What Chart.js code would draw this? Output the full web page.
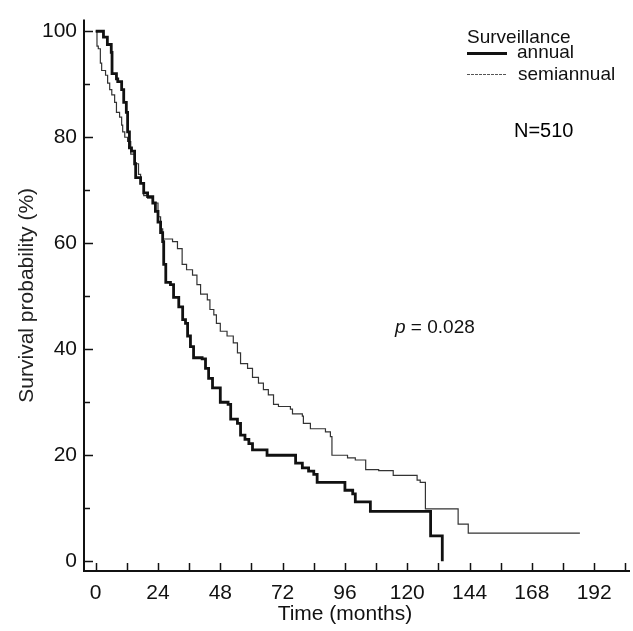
<!DOCTYPE html>
<html>
<head>
<meta charset="utf-8">
<script src="https://cdn.jsdelivr.net/npm/chart.js@4.4.0/dist/chart.umd.min.js"></script>
<style>
  html, body { margin: 0; padding: 0; background: #fff; }
  #wrap { width: 633px; height: 631px; position: relative; }
</style>
</head>
<body>
<div id="wrap"><canvas id="kmChart"></canvas></div>
<script>
// Kaplan-Meier curves: time in months, survival in %
const annualTime = [0, 3, 4.5, 6, 6.3, 8, 8.5, 10, 10.8, 11.8, 12.3, 13, 13.8, 15, 15.4, 17.3, 18.5, 20, 22, 23,
    24, 25, 25.8, 26.2, 27, 28.8, 30, 32, 33.5, 34.6, 35.4, 36.5, 37.7, 41, 42.3, 43.5, 45, 48, 51, 52,
    54.6, 55.8, 57.5, 59, 60.4, 66, 77, 79.6, 82, 84, 85.3, 96, 99, 100, 105.8, 129, 133.5];
const annualSurv = [100, 98.9, 97.5, 96, 92, 91, 90.5, 89, 86.6, 84.7, 81, 78, 77.4, 75, 72.4, 71.3, 69.5, 68.8, 67.6, 66,
    64, 62, 60.3, 56, 52.6, 52.2, 49.8, 48, 45.6, 44.9, 42.5, 40.5, 38.4, 38.2, 36.4, 34.5, 32.7, 30, 29.6, 26.8,
    26, 23.8, 23, 22.2, 21, 20, 18.5, 17.6, 17, 16.4, 14.9, 13.4, 12.7, 11.2, 9.4, 4.8, 0];

const semiTime = [0, 0.5, 1, 1.8, 2.3, 3.8, 4.6, 5.4, 6.2, 7.3, 8, 9.2, 10, 10.4, 11.2, 12.3, 13.5, 15, 16.5, 17.3,
    18.5, 20, 22, 24, 25, 25.8, 29.6, 31.5, 33.3, 35, 37.3, 39, 40.4, 43, 44, 45.5, 46.5, 48, 50.6, 53,
    54.6, 55.8, 58.5, 60.4, 62.7, 64.6, 66.5, 68.5, 70.4, 75, 75.8, 79.6, 80, 82.7, 88.5, 90.4, 91, 97, 100, 104,
    109, 114.6, 123.8, 125, 127, 139.6, 143.5, 186.5];
const semiSurv = [100, 97.2, 96.7, 94, 92.6, 91.7, 90.2, 89, 88, 86.6, 84.7, 83.8, 82.3, 81, 80, 79.2, 76.8, 75, 73, 71.3,
    69, 68.5, 67.6, 65, 62.7, 60.8, 60.3, 59, 56, 55, 54, 52.2, 50.4, 49.3, 47.5, 46.5, 44.9, 43.4, 42.5, 41.2,
    39.3, 37.3, 36.4, 34.7, 33.6, 32.4, 31.4, 29.6, 29.2, 28.7, 27.8, 27.4, 26, 25, 24.4, 23.5, 20, 19.5, 19.1, 17.3,
    17.1, 16.2, 15.3, 14.9, 9.9, 7, 5.3, 5.3];

// Tick positions
const xLabelTicks = [0, 24, 48, 72, 96, 120, 144, 168, 192];
const xMinorTicks = [0, 12, 24, 36, 48, 60, 72, 84, 96, 108, 120, 132, 144, 156, 168, 180, 192, 204];
const yLabelTicks = [0, 20, 40, 60, 80, 100];
const yMinorTicks = [10, 30, 50, 70, 90];

const toPoints = (ts, ss) => ts.map((t, i) => ({ x: t, y: ss[i] }));

const FONT = '"Liberation Sans", Arial, sans-serif';
const INK = '#111111';

// Axis lines, inward ticks, x title, legend and notes
const decorations = {
    id: 'decorations',
    afterDraw(chart) {
        const { ctx, chartArea: a, scales: { x, y } } = chart;
        ctx.save();
        ctx.strokeStyle = INK;
        ctx.lineWidth = 2;
        ctx.beginPath();
        ctx.moveTo(a.left, a.top);
        ctx.lineTo(a.left, a.bottom);
        ctx.lineTo(a.right, a.bottom);
        ctx.stroke();

        ctx.lineWidth = 1.5;
        ctx.beginPath();
        xMinorTicks.forEach(v => {
            const px = Math.round(x.getPixelForValue(v)) + 0.5;
            ctx.moveTo(px, a.bottom);
            ctx.lineTo(px, a.bottom - 8);
        });
        yLabelTicks.forEach(v => {
            const py = Math.round(y.getPixelForValue(v)) + 0.5;
            ctx.moveTo(a.left, py);
            ctx.lineTo(a.left + 9, py);
        });
        yMinorTicks.forEach(v => {
            const py = Math.round(y.getPixelForValue(v)) + 0.5;
            ctx.moveTo(a.left, py);
            ctx.lineTo(a.left + 6, py);
        });
        ctx.stroke();

        // x axis title
        ctx.fillStyle = INK;
        ctx.textAlign = 'center';
        ctx.textBaseline = 'alphabetic';
        ctx.font = '21px ' + FONT;
        ctx.fillText('Time (months)', x.getPixelForValue(96), 620);

        // legend
        ctx.textAlign = 'left';
        ctx.font = '19px ' + FONT;
        ctx.fillText('Surveillance', 467, 43);
        ctx.fillText('annual', 517, 58);
        ctx.fillText('semiannual', 518, 80);
        ctx.strokeStyle = '#111';
        ctx.lineWidth = 3;
        ctx.beginPath();
        ctx.moveTo(467, 53.5);
        ctx.lineTo(507, 53.5);
        ctx.stroke();
        ctx.strokeStyle = '#555';
        ctx.lineWidth = 1;
        ctx.setLineDash([3, 1]);
        ctx.beginPath();
        ctx.moveTo(467, 74.5);
        ctx.lineTo(507, 74.5);
        ctx.stroke();
        ctx.setLineDash([]);

        // N and p value
        ctx.fillStyle = '#000';
        ctx.font = '20px ' + FONT;
        ctx.fillText('N=510', 514, 137);
        ctx.fillStyle = INK;
        ctx.font = 'italic 19px ' + FONT;
        ctx.fillText('p', 395, 333);
        const pw = ctx.measureText('p').width;
        ctx.font = '19px ' + FONT;
        ctx.fillText(' = 0.028', 395 + pw, 333);
        ctx.restore();
    }
};

new Chart(document.getElementById('kmChart'), {
    type: 'line',
    data: {
        datasets: [
            {
                label: 'annual',
                data: toPoints(annualTime, annualSurv),
                borderColor: '#111111',
                borderWidth: 2.8,
                stepped: 'before',
                pointRadius: 0,
                fill: false
            },
            {
                label: 'semiannual',
                data: toPoints(semiTime, semiSurv),
                borderColor: '#333333',
                borderWidth: 1.2,
                stepped: 'before',
                pointRadius: 0,
                fill: false
            }
        ]
    },
    options: {
        responsive: true,
        maintainAspectRatio: false,
        animation: false,
        layout: { padding: { top: 5, right: 3, left: 0, bottom: 0 } },
        plugins: {
            legend: { display: false },
            title: { display: false },
            tooltip: { enabled: false }
        },
        scales: {
            x: {
                type: 'linear',
                min: -4.5,
                max: 205.8,
                grid: { display: false, drawTicks: false },
                border: { display: false },
                afterBuildTicks: s => { s.ticks = xLabelTicks.map(v => ({ value: v })); },
                afterFit: s => { s.height = 60; },
                ticks: {
                    autoSkip: false,
                    maxRotation: 0,
                    padding: 10,
                    color: INK,
                    font: { family: FONT, size: 21 }
                }
            },
            y: {
                type: 'linear',
                min: -1.84,
                max: 102.2,
                grid: { display: false, drawTicks: false },
                border: { display: false },
                afterBuildTicks: s => { s.ticks = yLabelTicks.map(v => ({ value: v })); },
                afterFit: s => { s.width = 84; },
                ticks: {
                    autoSkip: false,
                    padding: 7,
                    color: INK,
                    font: { family: FONT, size: 21 }
                },
                title: {
                    display: true,
                    text: 'Survival probability (%)',
                    color: '#222',
                    font: { family: FONT, size: 21 },
                    padding: { top: 15, bottom: 0 }
                }
            }
        }
    },
    plugins: [decorations]
});
</script>
</body>
</html>
